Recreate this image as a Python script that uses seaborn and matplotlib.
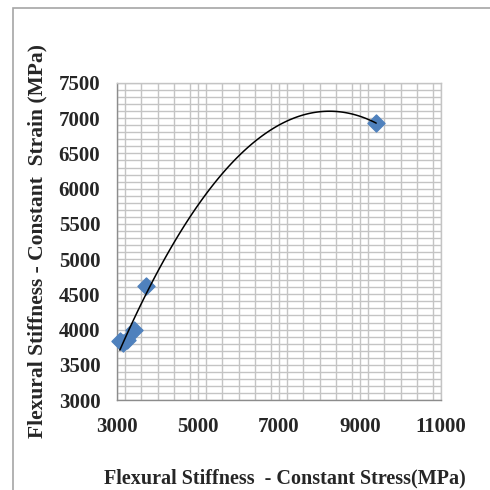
import matplotlib
matplotlib.use("Agg")
import matplotlib.pyplot as plt
from matplotlib.ticker import MultipleLocator
from matplotlib.patches import Rectangle
import pandas as pd
import seaborn as sns

# Flexural stiffness measured under the two loading modes (MPa)
constant_stress = [3070, 3150, 3250, 3420, 3720, 9400]
constant_strain = [3840, 3810, 3850, 4000, 4620, 6930]

x_ticks = [3000, 5000, 7000, 9000, 11000]
y_ticks = [3000, 3500, 4000, 4500, 5000, 5500, 6000, 6500, 7000, 7500]

x_title = "Flexural Stiffness  - Constant Stress(MPa)"
y_title = "Flexural Stiffness - Constant  Strain (MPa)"

df = pd.DataFrame({"stress": constant_stress, "strain": constant_strain})

sns.set_style("white")
plt.rcParams["font.family"] = ["Liberation Serif", "DejaVu Serif"]

fig = plt.figure(figsize=(4.9, 4.9), dpi=100)
ax = fig.add_axes([117 / 490, 1 - 400 / 490, (441 - 117) / 490, (400 - 83) / 490])

# Outer chart frame
fig.patches.append(Rectangle((13 / 490, -0.05), 1.2, 1 - 8 / 490 + 0.05,
                             transform=fig.transFigure, fill=False,
                             edgecolor="#a6a6a6", linewidth=1.2, zorder=0))

grid_c = "#c4c4c4"
ax.set_xlim(3000, 11000)
ax.set_ylim(3000, 7500)
ax.set_xticks(x_ticks)
ax.set_yticks(y_ticks)
ax.xaxis.set_minor_locator(MultipleLocator(400))
ax.yaxis.set_minor_locator(MultipleLocator(100))
ax.grid(True, which="both", color=grid_c, linewidth=1.0)
ax.tick_params(which="minor", length=0)
ax.tick_params(which="major", direction="out", length=6, width=1.0,
               color="#8c8c8c", labelsize=15, pad=6)
ax.set_axisbelow(True)

for side in ("top", "right"):
    ax.spines[side].set_visible(True)
    ax.spines[side].set_color(grid_c)
    ax.spines[side].set_linewidth(1.0)
for side in ("left", "bottom"):
    ax.spines[side].set_color("#8c8c8c")
    ax.spines[side].set_linewidth(1.0)

# Measured points with a second-order polynomial trend line
sns.regplot(data=df, x="stress", y="strain", order=2, ci=None, ax=ax,
            marker="D",
            scatter_kws={"s": 75, "color": "#4f81bd", "edgecolors": "#4f81bd",
                         "alpha": 1, "zorder": 3, "clip_on": False},
            line_kws={"color": "black", "linewidth": 1.1, "zorder": 4})

ax.set_xticklabels([str(v) for v in x_ticks], fontweight="bold")
ax.set_yticklabels([str(v) for v in y_ticks], fontweight="bold")
ax.set_xlabel(x_title, fontsize=14.5, fontweight="bold", labelpad=23)
ax.set_ylabel(y_title, fontsize=15.5, fontweight="bold", labelpad=8)
ax.xaxis.label.set_x(0.518)

fig.savefig("out.png", dpi=100)
